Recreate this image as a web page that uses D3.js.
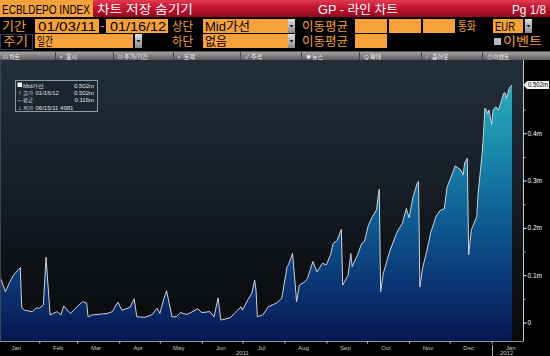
<!DOCTYPE html>
<html>
<head>
<script src="https://d3js.org/d3.v7.min.js"></script>
<style>
body{margin:0;background:#000;}
svg{display:block;}
</style>
</head>
<body>
<svg width="550" height="356"></svg>
<script>
// ECB deposit facility, daily, m = million millions EUR
var dates = ["2011-01-03","2011-01-07","2011-01-10","2011-01-13","2011-01-16","2011-01-18","2011-01-19","2011-01-21","2011-01-27","2011-01-30",
  "2011-02-01","2011-02-04","2011-02-06","2011-02-09","2011-02-14","2011-02-17","2011-02-19","2011-02-24","2011-02-27",
  "2011-03-05","2011-03-08","2011-03-09","2011-03-12","2011-03-23","2011-03-27","2011-03-31",
  "2011-04-03","2011-04-09","2011-04-12","2011-04-14","2011-04-20","2011-04-25","2011-04-29",
  "2011-05-01","2011-05-04","2011-05-06","2011-05-10","2011-05-13","2011-05-16","2011-05-21","2011-05-29",
  "2011-06-01","2011-06-07","2011-06-10","2011-06-13","2011-06-15","2011-06-22","2011-06-27","2011-06-30",
  "2011-07-01","2011-07-05","2011-07-08","2011-07-10","2011-07-11","2011-07-12","2011-07-16","2011-07-20","2011-07-26","2011-07-30",
  "2011-08-03","2011-08-04","2011-08-07","2011-08-10","2011-08-12","2011-08-16","2011-08-18","2011-08-22","2011-08-25","2011-08-29",
  "2011-09-01","2011-09-04","2011-09-06","2011-09-09","2011-09-12","2011-09-13","2011-09-17","2011-09-19","2011-09-20","2011-09-24","2011-09-27","2011-09-29",
  "2011-10-02","2011-10-05","2011-10-08","2011-10-09","2011-10-10","2011-10-11","2011-10-13","2011-10-18","2011-10-23","2011-10-25","2011-10-27","2011-10-30",
  "2011-11-01","2011-11-04","2011-11-07","2011-11-08","2011-11-09","2011-11-11","2011-11-14","2011-11-17","2011-11-21","2011-11-24","2011-11-27","2011-11-29",
  "2011-12-03","2011-12-05","2011-12-09","2011-12-11","2011-12-12","2011-12-14","2011-12-15","2011-12-17","2011-12-21","2011-12-22","2011-12-25",
  "2011-12-26","2011-12-27","2011-12-28","2011-12-29","2011-12-30",
  "2012-01-01","2012-01-02","2012-01-04","2012-01-06","2012-01-08","2012-01-10","2012-01-11","2012-01-12","2012-01-14","2012-01-16"];
var values = [0.097,0.065,0.084,0.100,0.110,0.116,0.031,0.026,0.023,0.031,
  0.030,0.037,0.138,0.016,0.023,0.016,0.035,0.019,0.028,
  0.044,0.041,0.012,0.016,0.019,0.023,0.043,
  0.026,0.032,0.050,0.012,0.011,0.016,0.030,
  0.019,0.051,0.067,0.012,0.012,0.021,0.017,0.029,
  0.021,0.023,0.012,0.052,0.005,0.010,0.025,0.033,
  0.026,0.048,0.062,0.090,0.069,0.012,0.016,0.033,0.041,0.051,
  0.118,0.122,0.146,0.044,0.079,0.086,0.093,0.129,0.107,0.125,
  0.122,0.143,0.167,0.174,0.197,0.079,0.100,0.146,0.118,0.143,0.167,0.171,
  0.206,0.224,0.238,0.263,0.282,0.065,0.104,0.153,0.190,0.200,0.209,0.241,
  0.221,0.266,0.294,0.298,0.075,0.115,0.150,0.190,0.225,0.237,0.240,0.285,
  0.315,0.331,0.323,0.312,0.337,0.347,0.143,0.196,0.224,0.273,0.358,
  0.400,0.453,0.450,0.441,0.449,
  0.418,0.449,0.456,0.449,0.467,0.485,0.485,0.474,0.495,0.502];

var yTicks = [0, 0.1, 0.2, 0.3, 0.4];
var yMinor = [0.05, 0.15, 0.25, 0.35, 0.45];
var lastValue = 0.502;
var legendRows = [
  {icon:"sq", name:"Mid가선", nw:21, date:"", val:"0.502m"},
  {icon:"↑", name:"고가", nw:10, date:"01/16/12", val:"0.502m"},
  {icon:"↔", name:"평균", nw:10, date:"", val:"0.116m"},
  {icon:"↓", name:"저가", nw:10, date:"06/15/11 4981", val:""}
];
var toolItems = [["⊡","차트",3],["▪","표시",60],["⊡","추가/기간",118],["•","트랙",178],["✓","주석",245],
  ["✱","뉴스",306],["Q","확대",364],["/","줌아웃",426],["⊙","이벤트",487]];

var LAT = "'Liberation Sans Narrow','Liberation Sans',Arial,sans-serif";
var KR = "'Liberation Sans','Noto Sans CJK KR',sans-serif";
var ORANGE = "#f6a13c";

var parse = d3.timeParse("%Y-%m-%d");
var data = dates.map(function(d, i){ return {date: parse(d), value: values[i]}; });

var svg = d3.select("svg");
var defs = svg.append("defs");

function grad(id, stops, y1, y2){
  var g = defs.append("linearGradient").attr("id", id).attr("x1",0).attr("x2",0);
  if (y1 !== undefined) g.attr("gradientUnits","userSpaceOnUse").attr("y1",y1).attr("y2",y2);
  else g.attr("y1",0).attr("y2",1);
  stops.forEach(function(s){ g.append("stop").attr("offset", s[0]).attr("stop-color", s[1]); });
}
grad("red", [[0,"#e23a52"],[0.45,"#c4142f"],[1,"#8e0a1e"]]);
grad("tool", [[0,"#a8a8a8"],[1,"#5c5c5c"]]);
grad("btn", [[0,"#e0e0e0"],[1,"#8a8a8a"]]);
grad("bg", [[0,"#222f3b"],[0.35,"#19222c"],[0.7,"#0f1318"],[1,"#08090b"]], 60, 341);
grad("fill", [[0,"#2aabbb"],[0.25,"#1a8aab"],[0.5,"#0f6096"],[0.75,"#0b3a78"],[1,"#081650"]], 85, 341);

function txt(x, y, s, o){
  o = o || {};
  var t = svg.append("text").attr("x", x).attr("y", y).text(s)
    .style("font-family", o.f || LAT).style("font-size", (o.s || 12) + "px")
    .attr("fill", o.c || "#000");
  if (o.w) t.attr("textLength", o.w).attr("lengthAdjust", "spacingAndGlyphs");
  if (o.a) t.attr("text-anchor", o.a);
  return t;
}
function box(x, y, w, h, fill){
  svg.append("rect").attr("x", x).attr("y", y).attr("width", w).attr("height", h).attr("fill", fill || ORANGE);
}
function drop(x, y, h){
  svg.append("rect").attr("x", x).attr("y", y).attr("width", 7).attr("height", h).attr("fill", "url(#btn)");
  var cx = x + 3.5, cy = y + h / 2;
  svg.append("path").attr("d", "M" + (cx - 2) + "," + (cy - 1) + "L" + (cx + 2) + "," + (cy - 1) + "L" + cx + "," + (cy + 1.5) + "Z").attr("fill", "#111");
}

// top title bar
box(0, 0, 550, 17, "url(#red)");
box(0, 0, 93, 17, ORANGE);
txt(2, 13.5, "ECBLDEPO INDEX", {s: 12.5, w: 88});
txt(97, 14, "차트 저장  숨기기", {f: KR, s: 12.5, c: "#fff", w: 96});
txt(318, 14, "GP - 라인 차트", {f: KR, s: 12.5, c: "#fff", w: 80});
txt(512, 14, "Pg 1/8", {s: 13, c: "#fff", w: 34});

// row 2
txt(2, 31, "기간", {f: KR, s: 12.5, c: ORANGE, w: 24});
box(35, 19, 64, 14); txt(38, 31, "01/03/11", {s: 13, w: 58});
txt(100.5, 30, "-", {s: 12, c: ORANGE});
box(106, 19, 62, 14); txt(110, 31, "01/16/12", {s: 13, w: 56});
txt(172, 31, "상단", {f: KR, s: 12.5, c: ORANGE, w: 21});
box(203, 19, 85, 14); txt(205, 31, "Mid가선", {f: KR, s: 12.5, w: 45}); drop(288, 19, 14);
txt(302, 31, "이동평균", {f: KR, s: 12.5, c: ORANGE, w: 46});
box(355, 19, 32, 14); box(389, 19, 32, 14); box(423, 19, 32, 14);
txt(458, 31, "통화", {f: KR, s: 12.5, c: ORANGE, w: 18});
box(493, 19, 30, 14); txt(495, 31, "EUR", {s: 13, w: 20}); drop(525, 19, 14);

// row 3
svg.append("rect").attr("x", 0.5).attr("y", 34.5).attr("width", 32).attr("height", 15).attr("fill", "#000").attr("stroke", "#2c3c66");
txt(3, 46, "주기", {f: KR, s: 12.5, c: ORANGE, w: 25});
box(35, 34, 98, 14); txt(37, 46, "일간", {f: KR, s: 12.5, w: 16}); drop(135, 34, 14);
txt(172, 46, "하단", {f: KR, s: 12.5, c: ORANGE, w: 21});
box(203, 34, 85, 14); txt(205, 46, "없음", {f: KR, s: 12.5, w: 22}); drop(288, 34, 14);
txt(302, 46, "이동평균", {f: KR, s: 12.5, c: ORANGE, w: 46});
box(355, 34, 32, 14);
svg.append("rect").attr("x", 494).attr("y", 38).attr("width", 7).attr("height", 7).attr("fill", "#b8b8b8");
txt(503, 46, "이벤트", {f: KR, s: 12.5, c: ORANGE, w: 39});

// toolbar
box(0, 51.5, 550, 8.5, "url(#tool)");
toolItems.forEach(function(t, i){
  txt(t[2], 58.5, t[0], {f: KR, s: 6, c: "#eee"});
  txt(t[2] + 6, 58.5, t[1], {f: KR, s: 6, c: "#f4f4f4"});
  if (i > 0) svg.append("line").attr("x1", t[2] - 4.5).attr("x2", t[2] - 4.5).attr("y1", 52).attr("y2", 60).attr("stroke", "#444");
});

// chart
var x = d3.scaleTime().domain([new Date(2011, 0, 3), new Date(2012, 0, 16)]).range([0, 512]);
var y = d3.scaleLinear().domain([0, 0.502]).range([322.5, 85]);
var plotBottom = 341;

box(0, 60, 523, plotBottom - 60, "url(#bg)");

var area = d3.area().x(function(d){ return x(d.date); }).y0(plotBottom).y1(function(d){ return y(d.value); });
var line = d3.line().x(function(d){ return x(d.date); }).y(function(d){ return y(d.value); });
svg.append("path").datum(data).attr("d", area).attr("fill", "url(#fill)");
svg.append("path").datum(data).attr("d", line).attr("fill", "none").attr("stroke", "#cdd4da").attr("stroke-width", 1);

svg.append("line").attr("x1", 0.5).attr("x2", 0.5).attr("y1", 60).attr("y2", plotBottom).attr("stroke", "#3c4650");

// right axis
svg.append("line").attr("x1", 523.5).attr("x2", 523.5).attr("y1", 60).attr("y2", plotBottom).attr("stroke", "#c8c8c8");
var yAxis = svg.append("g").attr("transform", "translate(523.5,0)")
  .call(d3.axisRight(y).tickValues(yTicks).tickSize(3).tickPadding(1)
    .tickFormat(function(d){ return d === 0 ? "0" : d3.format(".1f")(d) + "m"; }));
yAxis.select(".domain").remove();
yAxis.selectAll("line").attr("stroke", "#fff");
yAxis.selectAll("text").attr("fill", "#fff").style("font-family", LAT).style("font-size", "6.5px");
var yAxisMinor = svg.append("g").attr("transform", "translate(523.5,0)")
  .call(d3.axisRight(y).tickValues(yMinor).tickSize(2).tickFormat(""));
yAxisMinor.select(".domain").remove();
yAxisMinor.selectAll("line").attr("stroke", "#bbb");

// last value tag
var ly = y(lastValue);
svg.append("path").attr("d", "M523.5," + ly + "L527," + (ly - 4) + "L549," + (ly - 4) + "L549," + (ly + 4) + "L527," + (ly + 4) + "Z").attr("fill", "#f4f4f4");
txt(528, ly + 2.3, "0.502m", {s: 6.5, c: "#000", w: 20});

// bottom axis
svg.append("line").attr("x1", 0).attr("x2", 523.5).attr("y1", plotBottom + 0.5).attr("y2", plotBottom + 0.5).attr("stroke", "#8a939a");
var xAxis = svg.append("g").attr("transform", "translate(0," + (plotBottom + 0.5) + ")")
  .call(d3.axisBottom(x).ticks(d3.timeMonth.every(1)).tickSize(2).tickFormat(""));
xAxis.select(".domain").remove();
xAxis.selectAll("line").attr("stroke", "#ddd");

var months = d3.timeMonth.range(new Date(2011, 0, 1), new Date(2012, 1, 1));
svg.selectAll(".mlab").data(months).join("text").attr("class", "mlab")
  .attr("x", function(d){ return x(new Date(d.getFullYear(), d.getMonth(), 15)); })
  .attr("y", 349.5).attr("text-anchor", "middle")
  .style("font-family", LAT).style("font-size", "6px").attr("fill", "#c4c4c4")
  .text(d3.timeFormat("%b"));
txt(x(new Date(2011, 6, 1)), 355, "2011", {s: 6, c: "#c4c4c4", a: "middle"});
txt(x(new Date(2012, 0, 12)), 355, "2012", {s: 6, c: "#c4c4c4", a: "middle"});
svg.append("line").attr("x1", Math.round(x(new Date(2012, 0, 1))) + 0.5).attr("x2", Math.round(x(new Date(2012, 0, 1))) + 0.5)
  .attr("y1", 345).attr("y2", 356).attr("stroke", "#aaa");

// legend
svg.append("rect").attr("x", 15.5).attr("y", 80.5).attr("width", 82).attr("height", 31)
  .attr("fill", "#1b2530").attr("stroke", "#8d9ba6");
legendRows.forEach(function(r, i){
  var by = 87.5 + i * 7.4;
  if (r.icon === "sq") svg.append("rect").attr("x", 17.5).attr("y", by - 5).attr("width", 4.5).attr("height", 4.5).attr("fill", "#fff");
  else txt(19.8, by, r.icon, {s: 6, c: "#eee", a: "middle"});
  txt(23, by, r.name, {f: LAT, s: 6, c: "#e8e8e8", w: r.nw});
  if (r.date) txt(35.5, by, r.date, {s: 6, c: "#e0e0e0"});
  if (r.val) txt(94, by, r.val, {s: 6, c: "#e0e0e0", a: "end"});
});
</script>
</body>
</html>
